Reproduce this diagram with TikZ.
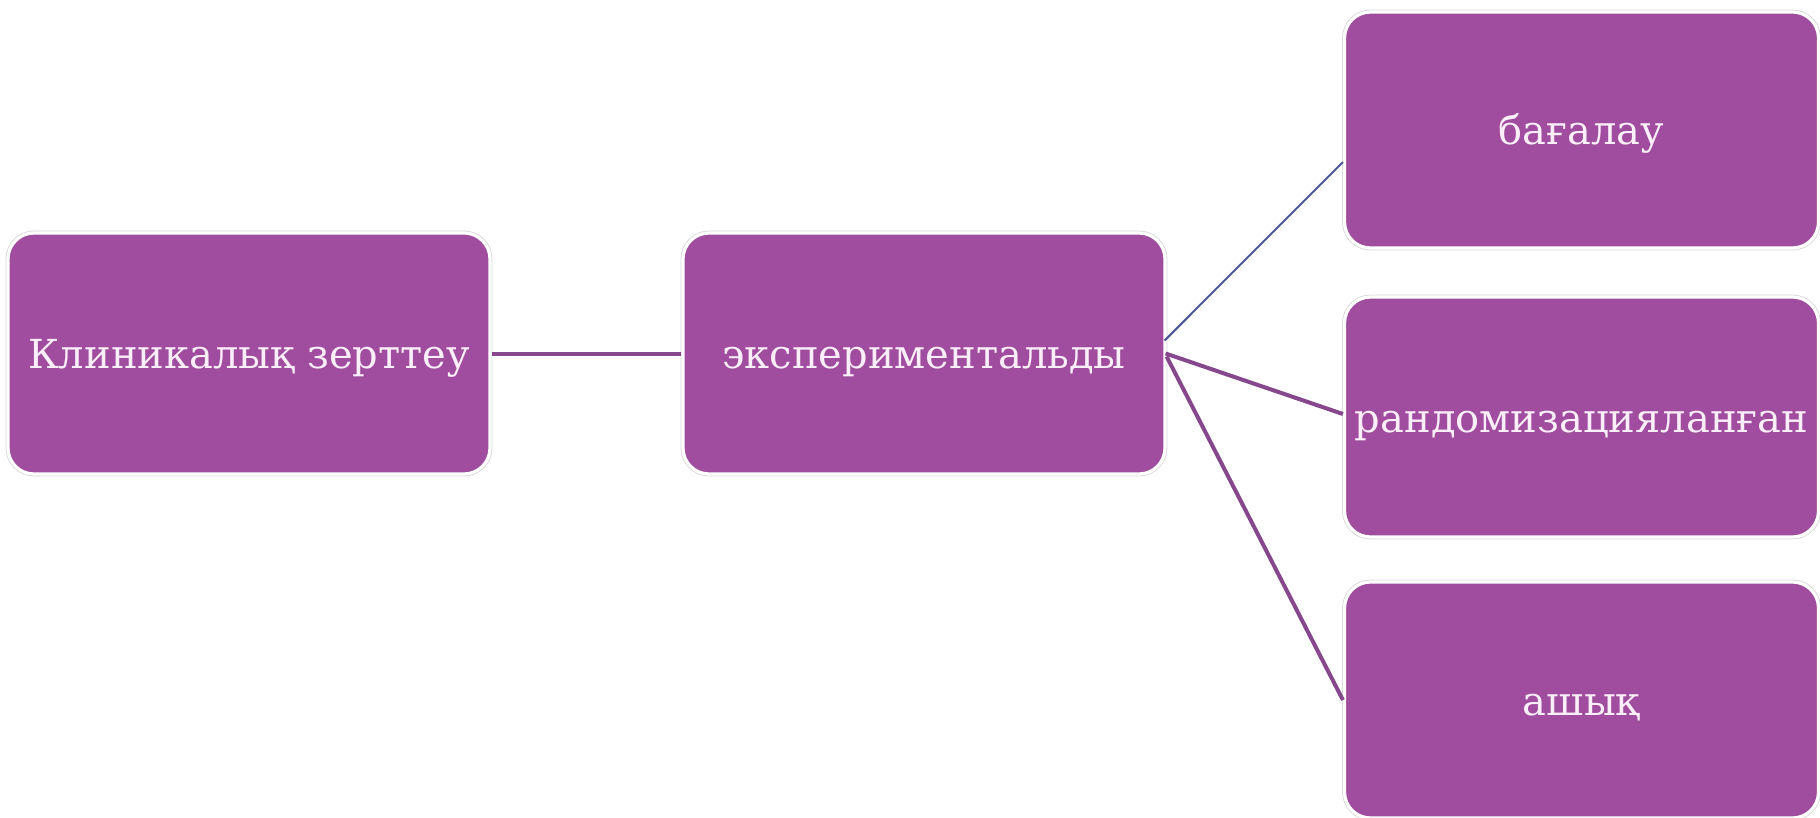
\documentclass[tikz,border=0pt]{standalone}
\usepackage{fontspec}
\setmainfont{DejaVu Serif}
\usetikzlibrary{calc}
\definecolor{boxfill}{HTML}{A04C9F}
\definecolor{boxtext}{HTML}{FAEEF8}
\definecolor{linkpurple}{HTML}{86478D}
\definecolor{linkblue}{HTML}{4E5896}
\newcommand{\boxlabel}[1]{\raisebox{-7.5pt}[0pt][0pt]{#1}}
\tikzset{
  box/.style={rectangle, rounded corners=13pt, fill=boxfill, text=boxtext,
    draw=white, line width=1.6pt,
    preaction={draw=black!16, line width=2.4pt},
    inner sep=0pt, font=\fontsize{20}{24}\selectfont},
  link/.style={draw=linkpurple, line width=2pt},
  thinlink/.style={draw=linkblue, line width=1pt}
}
\begin{document}
\begin{tikzpicture}[x=0.5pt,y=-0.5pt]
\useasboundingbox (0,0) rectangle (1820,818);
\node[box, minimum width=241pt, minimum height=120.5pt] (k) at (249,353.5) {\boxlabel{Клиникалық зерттеу}};
\node[box, minimum width=241pt, minimum height=120.5pt] (e) at (924,353.5) {\boxlabel{экспериментальды}};
\node[box, minimum width=237pt, minimum height=118pt] (b) at (1581.5,130) {\boxlabel{бағалау}};
\node[box, minimum width=237pt, minimum height=120pt] (r) at (1581.5,417) {\boxlabel{рандомизацияланған}};
\node[box, minimum width=237pt, minimum height=118pt] (a) at (1581.5,700) {\boxlabel{ашық}};
\draw[link] (k.east) -- (e.west);
\draw[thinlink] ($(e.east)+(-2,-13)$) -- ($(b.west)+(0,32)$);
\draw[link] ($(e.east)+(-1,0)$) -- ($(r.west)+(0,-3)$);
\draw[link] ($(e.east)+(0,3)$) -- (a.west);
\end{tikzpicture}
\end{document}
